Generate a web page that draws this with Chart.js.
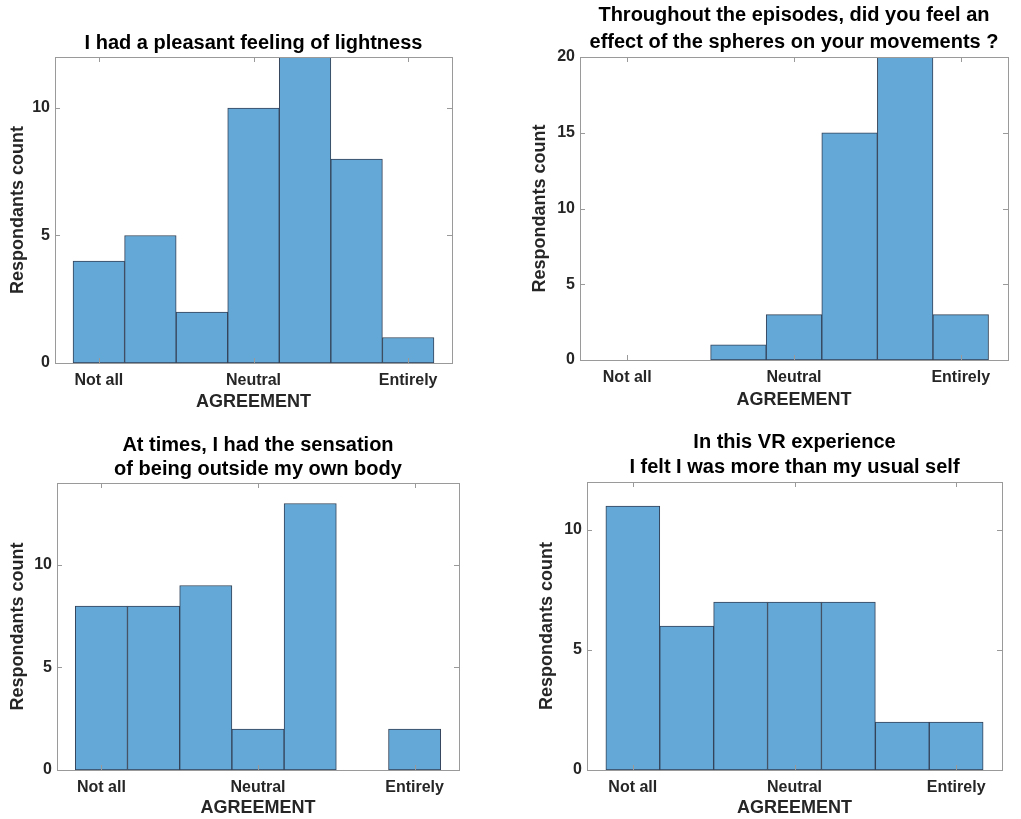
<!DOCTYPE html>
<html>
<head>
<meta charset="utf-8">
<script src="https://cdn.jsdelivr.net/npm/chart.js@4.4.1/dist/chart.umd.min.js"></script>
<style>
  html, body { margin: 0; padding: 0; background: #fff; overflow: hidden; }
  body { width: 1021px; height: 819px; position: relative; }
  .pane { position: absolute; }
</style>
</head>
<body>
<div class="pane" id="p1" style="left:0px;top:0px;width:460px;height:415px"><canvas id="c1"></canvas></div>
<div class="pane" id="p2" style="left:520px;top:0px;width:496px;height:413px"><canvas id="c2"></canvas></div>
<div class="pane" id="p3" style="left:0px;top:420px;width:467px;height:399px"><canvas id="c3"></canvas></div>
<div class="pane" id="p4" style="left:520px;top:420px;width:490px;height:399px"><canvas id="c4"></canvas></div>
<script>
// answer levels 1..7, only three of them are labelled
const levels = [1, 2, 3, 4, 5, 6, 7]
const tickValues = [1, 4, 7]
const tickLabels = ['Not all', 'Neutral', 'Entirely']

const lightnessCounts = [4, 5, 2, 10, 12, 8, 1]
const spheresCounts = [0, 0, 1, 3, 15, 20, 3]
const outsideBodyCounts = [8, 8, 9, 2, 13, 0, 2]
const usualSelfCounts = [11, 6, 7, 7, 7, 2, 2]

const titles = [
    ['I had a pleasant feeling of lightness'],
    ['Throughout the episodes, did you feel an', 'effect of the spheres on your movements ?'],
    ['At times, I had the sensation', 'of being outside my own body'],
    ['In this VR experience', 'I felt I was more than my usual self']
]
const yMax = [12, 20, 14, 12]
const yStep = 5

const FONT = 'Liberation Sans, Arial, Helvetica, sans-serif'
const BAR_FILL = 'rgb(99,168,214)'
const BAR_EDGE = 'rgb(52,66,88)'
const BOX = '#9a9a9a'
const TEXT = '#262626'

// matlab-ish box with inward ticks on all four sides
const boxPlugin = {
    id: 'matlabBox',
    afterDatasetsDraw(chart) {
        const { ctx, chartArea: a, scales } = chart
        ctx.save()
        ctx.strokeStyle = BOX
        ctx.lineWidth = 1
        ctx.strokeRect(Math.round(a.left) + 0.5, Math.round(a.top) + 0.5,
            Math.round(a.right - a.left), Math.round(a.bottom - a.top))
        const len = 5
        ctx.beginPath()
        scales.x.ticks.forEach(t => {
            const px = Math.round(scales.x.getPixelForValue(t.value)) + 0.5
            ctx.moveTo(px, a.bottom); ctx.lineTo(px, a.bottom - len)
            ctx.moveTo(px, a.top); ctx.lineTo(px, a.top + len)
        })
        scales.y.ticks.forEach(t => {
            const py = Math.round(scales.y.getPixelForValue(t.value)) + 0.5
            ctx.moveTo(a.left, py); ctx.lineTo(a.left + len, py)
            ctx.moveTo(a.right, py); ctx.lineTo(a.right - len, py)
        })
        ctx.stroke()
        ctx.restore()
    }
}

const make_chart = (canvas_id, counts, idx, cfg) => {
    const points = []
    for (let i = 0; i < levels.length; i++) {
        if (counts[i] > 0) points.push({ x: levels[i], y: counts[i] })
    }
    const ctx = document.getElementById(canvas_id).getContext('2d')
    return new Chart(ctx, {
        type: 'bar',
        data: {
            datasets: [{
                data: points,
                backgroundColor: BAR_FILL,
                borderColor: BAR_EDGE,
                borderWidth: 1,
                borderSkipped: false,
                barPercentage: 1,
                categoryPercentage: 1,
                grouped: false
            }]
        },
        options: {
            responsive: true,
            maintainAspectRatio: false,
            animation: false,
            layout: { padding: { left: 0, right: 8, top: 0, bottom: 0 } },
            plugins: {
                legend: { display: false },
                tooltip: { enabled: false },
                title: {
                    display: true,
                    text: titles[idx],
                    fullSize: false,
                    color: '#000',
                    font: { family: FONT, size: 20, weight: 'bold', lineHeight: cfg.titleLH + 'px' },
                    padding: { top: cfg.titleTop, bottom: cfg.titleBottom }
                }
            },
            scales: {
                x: {
                    type: 'linear',
                    min: 0.15,
                    max: 7.85,
                    offset: false,
                    grid: { display: false, drawTicks: false },
                    border: { display: false },
                    afterBuildTicks: (axis) => { axis.ticks = tickValues.map(v => ({ value: v })) },
                    afterFit: (axis) => { axis.height = cfg.xh },
                    ticks: {
                        padding: 8,
                        color: TEXT,
                        font: { family: FONT, size: 16, weight: 'bold' },
                        maxRotation: 0,
                        autoSkip: false,
                        callback: (v) => tickLabels[tickValues.indexOf(v)]
                    },
                    title: {
                        display: true,
                        text: 'AGREEMENT',
                        color: TEXT,
                        font: { family: FONT, size: 18, weight: 'bold' },
                        padding: { top: 0, bottom: cfg.xTitlePad }
                    }
                },
                y: {
                    min: 0,
                    max: yMax[idx],
                    grid: { display: false, drawTicks: false },
                    border: { display: false },
                    // only multiples of the step get a tick, like the original
                    afterBuildTicks: (axis) => { axis.ticks = axis.ticks.filter(t => t.value % yStep === 0) },
                    afterFit: (axis) => { axis.width = cfg.yw },
                    ticks: {
                        stepSize: yStep,
                        padding: 5,
                        color: TEXT,
                        font: { family: FONT, size: 16, weight: 'bold' }
                    },
                    title: {
                        display: true,
                        text: 'Respondants count',
                        color: TEXT,
                        font: { family: FONT, size: 18, weight: 'bold' },
                        padding: { top: cfg.yTitlePad, bottom: 0 }
                    }
                }
            }
        },
        plugins: [boxPlugin]
    })
}

make_chart('c1', lightnessCounts, 0, { titleLH: 25, titleTop: 31, titleBottom: 1, xh: 52, yw: 55, xTitlePad: 2, yTitlePad: 7 })
make_chart('c2', spheresCounts, 1, { titleLH: 27, titleTop: 2, titleBottom: 1, xh: 53, yw: 60, xTitlePad: 2, yTitlePad: 9 })
make_chart('c3', outsideBodyCounts, 2, { titleLH: 24, titleTop: 13, titleBottom: 2, xh: 49, yw: 57, xTitlePad: 0, yTitlePad: 7 })
make_chart('c4', usualSelfCounts, 3, { titleLH: 25, titleTop: 10, titleBottom: 2, xh: 49, yw: 67, xTitlePad: 0, yTitlePad: 16 })
</script>
</body>
</html>
